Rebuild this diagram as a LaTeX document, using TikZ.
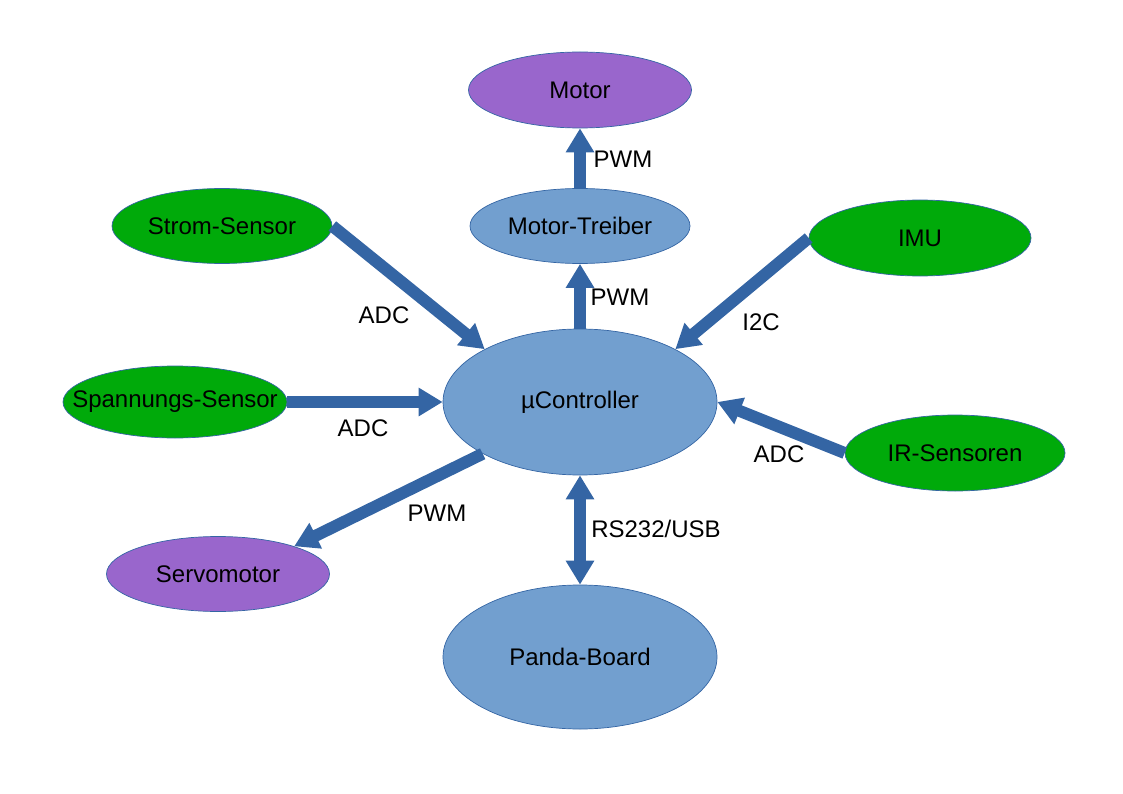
\documentclass[tikz,border=0pt]{standalone}
\usepackage{fontspec}
\setmainfont{Liberation Sans}
\usetikzlibrary{arrows.meta,shapes.geometric}
\definecolor{nblue}{HTML}{729FCF}
\definecolor{ngreen}{RGB}{0,170,10}
\definecolor{npurple}{HTML}{9966CC}
\definecolor{ablue}{HTML}{3465A4}
\newcommand{\ctext}[1]{\makebox[0pt]{#1}}
\tikzset{
  ell/.style={ellipse, draw=ablue, line width=0.7pt, inner sep=0pt,
    font=\fontsize{24}{28}\selectfont},
  blueell/.style={ell, fill=nblue},
  greenell/.style={ell, fill=ngreen},
  purpleell/.style={ell, fill=npurple},
  conn/.style={draw=ablue, line width=12pt,
    -{Triangle[width=27pt,length=24pt]}},
  biconn/.style={draw=ablue, line width=12pt,
    {Triangle[width=27pt,length=24pt]}-{Triangle[width=27pt,length=24pt]}},
  lbl/.style={font=\fontsize{24}{28}\selectfont, inner sep=0pt}
}
\begin{document}
\begin{tikzpicture}[x=1pt,y=-1pt]
\useasboundingbox (0,0) rectangle (1123,794);
\node[purpleell, minimum width=223pt, minimum height=76pt] (motor) at (580,90) {\ctext{Motor}};
\node[blueell, minimum width=220pt, minimum height=75pt] (mt) at (580,226) {\ctext{Motor-Treiber}};
\node[greenell, minimum width=220pt, minimum height=75pt] (strom) at (222,226) {\ctext{Strom-Sensor}};
\node[greenell, minimum width=222pt, minimum height=76pt] (imu) at (920,238) {\ctext{IMU}};
\node[blueell, minimum width=274pt, minimum height=146pt] (mc) at (580,402) {\ctext{µController}};
\node[greenell, minimum width=224pt, minimum height=72pt] (span) at (175,402) {\ctext{Spannungs-Sensor}};
\node[greenell, minimum width=220pt, minimum height=76pt] (ir) at (955,453) {\ctext{IR-Sensoren}};
\node[purpleell, minimum width=223pt, minimum height=75pt] (servo) at (218,574) {\ctext{Servomotor}};
\node[blueell, minimum width=274pt, minimum height=144pt] (panda) at (580,657) {\ctext{Panda-Board}};

\draw[conn] (mt.north) -- (motor.south);
\draw[conn] (mc.north) -- (mt.south);
\draw[conn] (strom.east) -- (mc.151);
\draw[conn] (imu.west) -- (mc.29);
\draw[conn] (span.east) -- (mc.west);
\draw[conn] (ir.west) -- (mc.east);
\draw[conn] (mc.208) -- (servo.20);
\draw[biconn] (mc.south) -- (panda.north);

\node[lbl] (l1) at (623,159) {PWM};
\node[lbl] (l2) at (620,297) {PWM};
\node[lbl] (l3) at (384,315) {ADC};
\node[lbl] (l4) at (761,322) {I2C};
\node[lbl] (l5) at (363,428) {ADC};
\node[lbl] (l6) at (779,454) {ADC};
\node[lbl] (l7) at (437,513) {PWM};
\node[lbl] (l8) at (656,529) {RS232/USB};
\end{tikzpicture}
\end{document}
